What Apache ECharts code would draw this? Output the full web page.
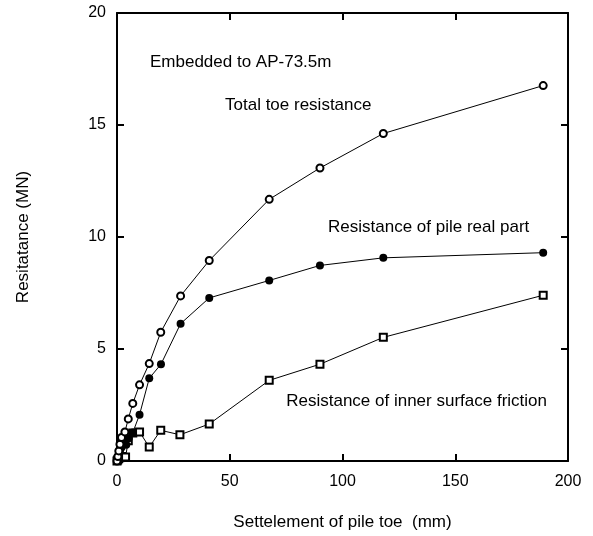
<!DOCTYPE html>
<html>
<head>
<meta charset="utf-8">
<script src="https://cdn.jsdelivr.net/npm/echarts@6/dist/echarts.min.js"></script>
<style>
html,body{margin:0;padding:0;background:#fff;}
#c{width:593px;height:536px;}
</style>
</head>
<body>
<div id="c"></div>
<script>
// Settlement of pile toe (mm) and resistance (MN)
var totalX = [0, 0.4, 0.8, 1.3, 2.0, 3.5, 5.0, 7.0, 10.0, 14.3, 19.4, 28.2, 40.9, 67.5, 90.0, 118.1, 189.0];
var totalY = [0, 0.2, 0.45, 0.75, 1.05, 1.3, 1.88, 2.57, 3.4, 4.35, 5.75, 7.37, 8.95, 11.68, 13.08, 14.62, 16.76];

var realX = [0, 0.4, 0.8, 1.3, 2.0, 3.0, 4.1, 5.2, 7.0, 10.0, 14.3, 19.5, 28.2, 40.9, 67.5, 90.0, 118.1, 189.0];
var realY = [0, 0.15, 0.3, 0.45, 0.6, 0.8, 0.72, 1.02, 1.27, 2.07, 3.69, 4.32, 6.13, 7.28, 8.06, 8.73, 9.07, 9.3];

var innerX = [0, 0.3, 0.7, 1.2, 2.0, 3.8, 5.0, 7.0, 10.0, 14.3, 19.4, 27.9, 40.9, 67.5, 90.0, 118.1, 189.0];
var innerY = [0, 0.05, 0.1, 0.15, 0.2, 0.18, 0.9, 1.25, 1.3, 0.62, 1.37, 1.17, 1.65, 3.6, 4.32, 5.52, 7.4];

var xTicks = [0, 50, 100, 150, 200];
var yTicks = [0, 5, 10, 15, 20];

var labels = {
  title: 'Embedded to AP-73.5m',
  total: 'Total toe resistance',
  real: 'Resistance of pile real part',
  inner: 'Resistance of inner surface friction',
  xName: 'Settelement of pile toe  (mm)',
  yName: 'Resitatance (MN)'
};

function pairs(xs, ys) { return xs.map(function (x, i) { return [x, ys[i]]; }); }

var FONT = '"Liberation Sans", Arial, sans-serif';
var chart = echarts.init(document.getElementById('c'), null, {renderer: 'canvas'});

function axisCommon() {
  return {
    axisLine: {show: true, onZero: false, lineStyle: {color: '#000', width: 2}},
    axisTick: {show: true, inside: true, length: 7, lineStyle: {color: '#000', width: 2}},
    splitLine: {show: false}
  };
}

function ax(extra) { return Object.assign(axisCommon(), extra); }

chart.setOption({
  animation: false,
  backgroundColor: '#fff',
  grid: {left: 117, right: 25, top: 13, bottom: 73, containLabel: false},
  xAxis: [
    ax({type: 'value', min: xTicks[0], max: xTicks[xTicks.length - 1], interval: 50, position: 'bottom',
      name: labels.xName, nameLocation: 'middle', nameGap: 53,
      nameTextStyle: {fontFamily: FONT, fontSize: 17, color: '#000'},
      axisLabel: {fontFamily: FONT, fontSize: 16, color: '#000', margin: 13}}),
    ax({type: 'value', min: xTicks[0], max: xTicks[xTicks.length - 1], interval: 50, position: 'top',
      axisLabel: {show: false}})
  ],
  yAxis: [
    ax({type: 'value', min: yTicks[0], max: yTicks[yTicks.length - 1], interval: 5, position: 'left',
      name: labels.yName, nameLocation: 'middle', nameGap: 85,
      nameTextStyle: {fontFamily: FONT, fontSize: 17, color: '#000'},
      axisLabel: {fontFamily: FONT, fontSize: 16, color: '#000', margin: 11}}),
    ax({type: 'value', min: yTicks[0], max: yTicks[yTicks.length - 1], interval: 5, position: 'right',
      axisLabel: {show: false}})
  ],
  series: [
    {type: 'line', name: 'inner', data: pairs(innerX, innerY), symbol: 'emptyRect', symbolSize: 7,
      lineStyle: {color: '#000', width: 1}, itemStyle: {color: '#000', borderColor: '#000', borderWidth: 1}, z: 3},
    {type: 'line', name: 'real', data: pairs(realX, realY), symbol: 'circle', symbolSize: 8,
      lineStyle: {color: '#000', width: 1}, itemStyle: {color: '#000'}, z: 4},
    {type: 'line', name: 'total', data: pairs(totalX, totalY), symbol: 'emptyCircle', symbolSize: 7,
      lineStyle: {color: '#000', width: 1}, itemStyle: {color: '#000', borderColor: '#000', borderWidth: 1}, z: 5}
  ],
  graphic: [
    {type: 'text', left: 150, top: 54, style: {text: labels.title, font: '17px ' + FONT, fill: '#000'}},
    {type: 'text', left: 225, top: 97, style: {text: labels.total, font: '17px ' + FONT, fill: '#000'}},
    {type: 'text', left: 328, top: 219, style: {text: labels.real, font: '17px ' + FONT, fill: '#000'}},
    {type: 'text', right: 46, top: 393, style: {text: labels.inner, font: '17px ' + FONT, fill: '#000'}}
  ]
});
</script>
</body>
</html>
